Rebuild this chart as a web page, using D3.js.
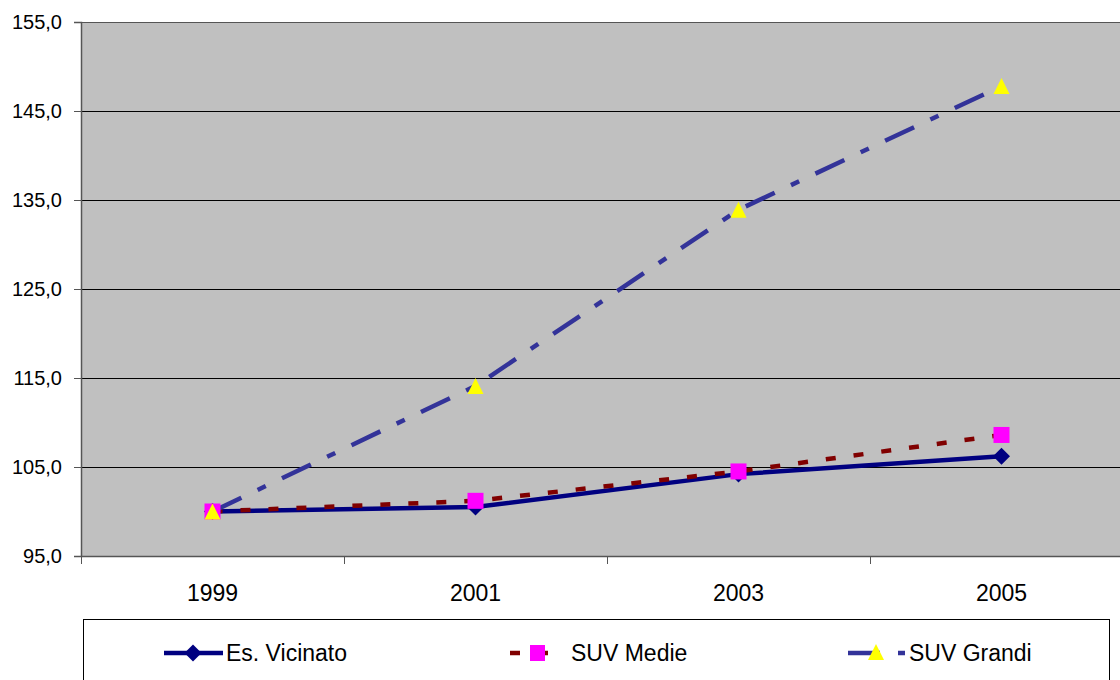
<!DOCTYPE html>
<html>
<head>
<meta charset="utf-8">
<script src="https://cdn.jsdelivr.net/npm/d3@7"></script>
<style>
  html, body { margin: 0; padding: 0; background: #fff; overflow: hidden; }
  svg { display: block; font-family: "Liberation Sans", Arial, sans-serif; }
</style>
</head>
<body>
<svg id="chart" width="1120" height="680"></svg>
<script>
// ---- data ----
const years = ["1999", "2001", "2003", "2005"];
const esVicinato = [100.0, 100.5, 104.2, 106.2];
const suvMedie = [100.0, 101.2, 104.5, 108.6];
const suvGrandi = [100.0, 114.1, 133.9, 147.8];
const yTicks = [95, 105, 115, 125, 135, 145, 155];
const seriesNames = ["Es. Vicinato", "SUV Medie", "SUV Grandi"];

// ---- layout ----
const svg = d3.select("#chart");
const pLeft = 81, pTop = 22, pBottom = 556, pRight = 1133;

const x = d3.scaleBand().domain(years).range([pLeft, pRight]).padding(0);
const y = d3.scaleLinear().domain([95, 155]).range([pBottom, pTop]);
const cx = d => x(d) + x.bandwidth() / 2;

const locale = d3.formatLocale({decimal: ",", thousands: ".", grouping: [3], currency: ["", "€"]});
const fmt = locale.format(".1f");

// marker shapes (centered at 0,0)
const triPath = "M0,-8L8,8L-8,8Z";
const diamondPath = "M0,-8.5L8.5,0L0,8.5L-8.5,0Z";

// plot area
svg.append("rect")
  .attr("x", pLeft).attr("y", pTop)
  .attr("width", pRight - pLeft).attr("height", pBottom - pTop)
  .attr("fill", "#C0C0C0");

// gridlines
svg.append("g").selectAll("line").data(yTicks).join("line")
  .attr("x1", pLeft).attr("x2", pRight)
  .attr("y1", d => Math.round(y(d)) + 0.5).attr("y2", d => Math.round(y(d)) + 0.5)
  .attr("stroke", d => d === 155 ? "#555" : "#000")
  .attr("stroke-width", 1);

// y axis
const yAxis = d3.axisLeft(y).tickValues(yTicks).tickFormat(fmt).tickSize(7).tickPadding(12);
const gy = svg.append("g").attr("transform", `translate(${pLeft},0)`).call(yAxis);
gy.attr("font-size", null).attr("font-family", null);
gy.select(".domain").attr("stroke", "#555").attr("stroke-width", 1.5);
gy.selectAll(".tick line").attr("stroke", "#555");
gy.selectAll(".tick text").attr("font-size", 20).attr("fill", "#000");

// x axis (ticks on category boundaries)
svg.append("line")
  .attr("x1", pLeft).attr("x2", pRight).attr("y1", pBottom + 0.5).attr("y2", pBottom + 0.5)
  .attr("stroke", "#555").attr("stroke-width", 1.5);
const boundaries = years.map(d => x(d)).concat([pRight]);
svg.append("g").selectAll("line").data(boundaries).join("line")
  .attr("x1", d => Math.round(d) + 0.5).attr("x2", d => Math.round(d) + 0.5)
  .attr("y1", pBottom).attr("y2", pBottom + 8)
  .attr("stroke", "#555").attr("stroke-width", 1);
svg.append("g").selectAll("text").data(years).join("text")
  .attr("x", d => cx(d)).attr("y", 601)
  .attr("text-anchor", "middle").attr("font-size", 23).attr("fill", "#000")
  .text(d => d);

// lines
const line = d3.line().x((d, i) => cx(years[i])).y(d => y(d));

svg.append("path").datum(esVicinato).attr("d", line)
  .attr("fill", "none").attr("stroke", "#000080").attr("stroke-width", 4.5);
svg.append("path").datum(suvMedie).attr("d", line)
  .attr("fill", "none").attr("stroke", "#800000").attr("stroke-width", 4.5)
  .attr("stroke-dasharray", "10,18");
svg.append("path").datum(suvGrandi).attr("d", line)
  .attr("fill", "none").attr("stroke", "#333399").attr("stroke-width", 4.5)
  .attr("stroke-dasharray", "32,18,9,18");

// markers
svg.append("g").selectAll("path").data(esVicinato).join("path")
  .attr("d", diamondPath)
  .attr("transform", (d, i) => `translate(${cx(years[i])},${y(d)})`)
  .attr("fill", "#000080");
svg.append("g").selectAll("rect").data(suvMedie).join("rect")
  .attr("x", (d, i) => cx(years[i]) - 8).attr("y", d => y(d) - 8)
  .attr("width", 16).attr("height", 16)
  .attr("fill", "#FF00FF");
svg.append("g").selectAll("path").data(suvGrandi).join("path")
  .attr("d", triPath)
  .attr("transform", (d, i) => `translate(${cx(years[i])},${y(d)})`)
  .attr("fill", "#FFFF00");

// legend
svg.append("rect").attr("x", 83.5).attr("y", 619.5).attr("width", 1026).attr("height", 100)
  .attr("fill", "#fff").attr("stroke", "#000").attr("stroke-width", 1);

const ly = 653;
const lg = svg.append("g");
// Es. Vicinato
lg.append("line").attr("x1", 164).attr("x2", 223).attr("y1", ly).attr("y2", ly)
  .attr("stroke", "#000080").attr("stroke-width", 4.5);
lg.append("path").attr("d", diamondPath)
  .attr("transform", `translate(193,${ly})`).attr("fill", "#000080");
lg.append("text").attr("x", 226).attr("y", ly + 8).attr("font-size", 23).text(seriesNames[0]);
// SUV Medie
lg.append("line").attr("x1", 510).attr("x2", 548).attr("y1", ly).attr("y2", ly)
  .attr("stroke", "#800000").attr("stroke-width", 4.5).attr("stroke-dasharray", "10,18");
lg.append("rect").attr("x", 530).attr("y", ly - 8).attr("width", 15).attr("height", 16).attr("fill", "#FF00FF");
lg.append("text").attr("x", 571).attr("y", ly + 8).attr("font-size", 23).text(seriesNames[1]);
// SUV Grandi
lg.append("line").attr("x1", 848).attr("x2", 905).attr("y1", ly).attr("y2", ly)
  .attr("stroke", "#333399").attr("stroke-width", 4.5).attr("stroke-dasharray", "32,18,9,18");
lg.append("path").attr("d", triPath).attr("transform", `translate(876,${ly - 1})`).attr("fill", "#FFFF00");
lg.append("text").attr("x", 909).attr("y", ly + 8).attr("font-size", 23).text(seriesNames[2]);
</script>
</body>
</html>
